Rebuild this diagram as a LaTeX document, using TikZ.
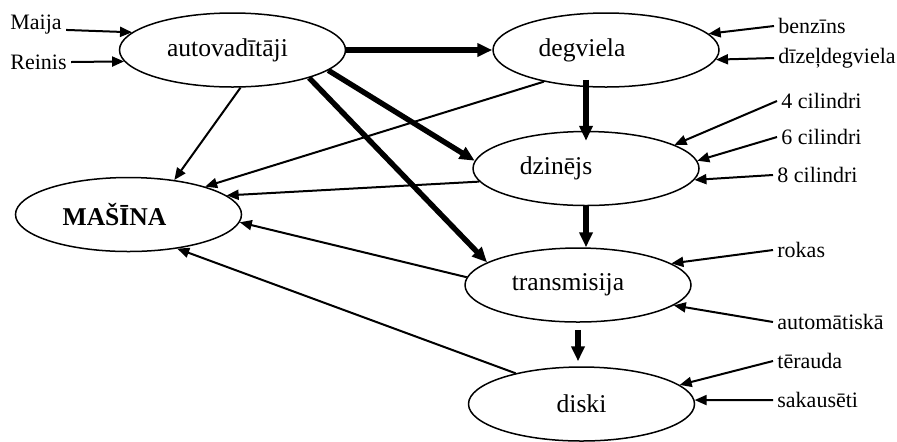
\documentclass[tikz,border=0pt]{standalone}
\usepackage{fontspec}
\setmainfont{Liberation Serif}
\usetikzlibrary{arrows.meta,shapes.geometric}
\tikzset{obj/.style={ellipse,draw=black,line width=0.75pt,minimum width=113pt,minimum height=37pt,inner sep=0pt,font=\fontsize{12.8}{15}\selectfont}}
\tikzset{lbl/.style={inner sep=2pt,anchor=west,font=\fontsize{11}{13}\selectfont}}
\tikzset{arr/.style={-{Triangle[length=6pt,width=5pt]},line width=1pt}}
\tikzset{bigarr/.style={-{Triangle[length=7.5pt,width=6.5pt]},line width=2.7pt}}

\begin{document}
\begin{tikzpicture}[x=0.5pt,y=-0.5pt]
\useasboundingbox (0,0) rectangle (897,441);
% \draw[help lines] (0,0) grid (897,441);
% text sits a little left of centre in most ellipses
\node (autovad) [obj] at (232.5,50) {autovadītāji\hspace*{5pt}};
\node (degviela) [obj] at (606,50) {degviela\hspace*{24pt}};
\node (dzinejs) [obj] at (586,168.5) {dzinējs\hspace*{30pt}};
\node (masina) [obj] at (128.5,214.5) {\textbf{MAŠĪNA}\hspace*{14pt}};
\node (transm) [obj] at (578,285) {transmisija\hspace*{10pt}};
\node (diski) [obj] at (581.5,404) {diski};
%
\node (maija) [lbl] at (6,25) {Maija};
\node (reinis) [lbl] at (6,62) {Reinis};
\node (benzins) [lbl] at (774,26) {benzīns};
\node (dizel) [lbl] at (774,58) {dīzeļdegviela};
\node (cil4) [lbl] at (777,101) {4 cilindri};
\node (cil6) [lbl] at (777,137) {6 cilindri};
\node (cil8) [lbl] at (773,175) {8 cilindri};
\node (rokas) [lbl] at (773,250) {rokas};
\node (autom) [lbl] at (773,322) {automātiskā};
\node (terauda) [lbl] at (773,361) {tērauda};
\node (sakaus) [lbl] at (773,400) {sakausēti};
%
\draw[arr] (maija.base east) -- (autovad.170);
\draw[arr] (reinis.east) -- (autovad.186);
\draw[arr] (benzins.west) -- (degviela.9);
\draw[arr] (dizel.west) -- (degviela.355);
\draw[arr] (cil4.west) -- (dzinejs.15);
\draw[arr] (cil6.west) -- (dzinejs.4);
\draw[arr] (cil8.west) -- (dzinejs.354);
\draw[arr] (rokas.west) -- (transm.13);
\draw[arr] (autom.west) -- (transm.348);
\draw[arr] (terauda.west) -- (diski.11);
\draw[arr] (sakaus.west) -- (diski.2);
%
\draw[bigarr] (autovad.east) -- (degviela.west);
\draw[bigarr] (autovad.348) -- (dzinejs.176);
\draw[bigarr] (autovad.340) -- (transm.166);
\draw[bigarr,shorten <=-4pt,shorten >=-5pt] (degviela.south -| dzinejs.north) -- (dzinejs.north);
\draw[bigarr] (dzinejs.south) -- (dzinejs.south |- transm.north);
\draw[bigarr,shorten <=3.5pt,shorten >=2.5pt] (transm.south) -- (transm.south |- diski.north);
%
\draw[arr] (autovad.282) -- (masina.37);
\draw[arr] (degviela.207) -- (masina.20);
\draw[arr] (dzinejs.187) -- (masina.11);
\draw[arr] (transm.176) -- (masina.356);
\draw[arr] (diski.155) -- (masina.325);
\end{tikzpicture}
\end{document}
